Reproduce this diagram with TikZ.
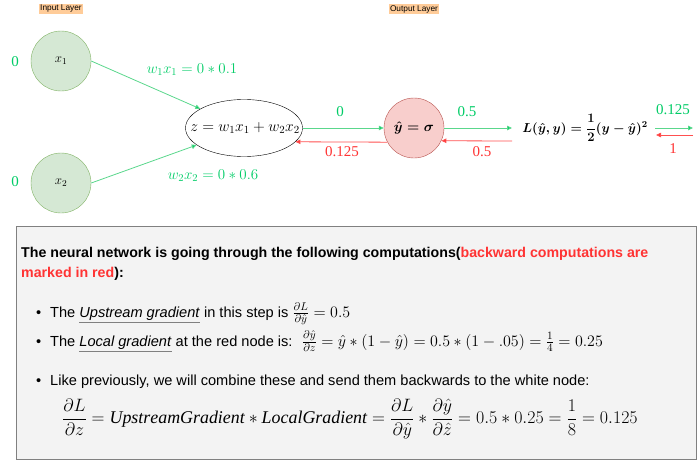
\RequirePackage{fix-cm}
\documentclass[tikz,border=0pt]{standalone}
\usepackage{fontspec}
\usepackage{amsmath}
\setmainfont{Liberation Serif}
\setsansfont{Liberation Sans}
\usetikzlibrary{arrows.meta,shapes.geometric,calc}
\definecolor{gtext}{RGB}{0,204,102}
\definecolor{gline}{RGB}{90,215,140}
\definecolor{rtext}{RGB}{255,51,51}
\definecolor{rline}{RGB}{255,80,80}
\definecolor{layerbg}{RGB}{255,204,153}
\definecolor{gfill}{RGB}{213,232,212}
\definecolor{gdraw}{RGB}{130,179,102}
\definecolor{rfill}{RGB}{248,206,204}
\definecolor{rdraw}{RGB}{184,84,80}
\definecolor{boxfill}{RGB}{243,243,243}
\definecolor{boxdraw}{RGB}{128,128,128}
\newcommand{\myul}[1]{{\color{gray}\underline{\color{black}\textit{#1}}}}
\newcommand{\mybigmath}[1]{{\fontsize{16}{18}\selectfont$#1$}}
\begin{document}
\begin{tikzpicture}[x=1pt,y=-1pt,
  layer/.style={fill=layerbg,inner sep=1pt,font=\sffamily\fontsize{8.3}{9}\selectfont},
  innode/.style={circle,fill=gfill,draw=gdraw,minimum size=60pt,inner sep=0pt,font=\fontsize{13}{15}\selectfont},
  outnode/.style={circle,fill=rfill,draw=rdraw,minimum size=60pt,inner sep=0pt,font=\fontsize{14}{16}\selectfont},
  sumnode/.style={ellipse,draw=black,fill=white,minimum width=117pt,minimum height=57pt,inner sep=0pt},
  garrow/.style={draw=gline,line width=0.8pt,-{Triangle[length=5pt,width=4.5pt,fill=gtext]}},
  rarrow/.style={draw=rline,line width=0.8pt,-{Triangle[length=5pt,width=4.5pt,fill=rtext]}},
  glab/.style={text=gtext,font=\fontsize{15}{17}\selectfont,inner sep=0pt},
  rlab/.style={text=rtext,font=\fontsize{15}{17}\selectfont,inner sep=0pt},
  ttl/.style={anchor=base west,inner sep=0pt,font=\sffamily\bfseries\fontsize{14.2}{16}\selectfont},
  bul/.style={anchor=base west,inner sep=0pt,font=\sffamily\fontsize{14.6}{17}\selectfont}
]
\useasboundingbox (0,0) rectangle (700,460);
% layer labels
\node[layer] (inl) at (61,9) {Input Layer};
\node[layer] (outl) at (414,9) {Output Layer};
% nodes
\node[innode] (x1) at (61,61) {$x_1$};
\node[innode] (x2) at (61,183) {$x_2$};
\node[sumnode] (z) at (244,128) {};
\node[inner sep=0pt,font=\fontsize{15.5}{17}\selectfont] (zl) at (245,128) {$z = w_1x_1 + w_2x_2$};
\node[outnode] (yhat) at (414,128) {$\boldsymbol{\hat{y} = \sigma}$};
\node[font=\fontsize{13}{15}\selectfont\bfseries,inner sep=0pt] (loss) at (585,128) {$\boldsymbol{L(\hat{y}, y) = \dfrac{1}{2}(y - \hat{y})^{2}}$};
% input labels
\node[glab] (z1) at (15,62) {0};
\node[glab] (z2) at (15,182) {0};
% edges from inputs
\draw[garrow] (x1.east) -- (z);
\draw[garrow] (x2.east) -- (z);
\node[glab] (w1) at (192,70) {$w_1x_1 = 0*0.1$};
\node[glab] (w2) at (213,176) {$w_2x_2 = 0*0.6$};
% z <-> yhat
\draw[garrow] (z.east) -- (yhat.west);
\draw[rarrow] (yhat.-152.2) -- (z.-15.6);
\node[glab] (l0) at (340,112) {0};
\node[rlab] (l0125) at (342,152) {0.125};
% yhat <-> loss
\coordinate (la) at (512,128);
\coordinate (lb) at (512,141);
\draw[garrow] (yhat.east) -- (la);
\draw[rarrow] (lb) -- (yhat.-25.7);
\node[glab] (l05a) at (467,112) {0.5};
\node[rlab] (l05b) at (482,152) {0.5};
% right of loss
\coordinate (ra) at (655,128);
\coordinate (rb) at (693,128);
\coordinate (rc) at (693,135);
\coordinate (rd) at (656,135);
\draw[garrow] (ra) -- (rb);
\draw[rarrow] (rc) -- (rd);
\node[glab] (r0125) at (673,110) {0.125};
\node[rlab] (r1) at (673,149) {1};
% explanation box
\node[draw=boxdraw,fill=boxfill,line width=0.8pt,minimum width=680pt,minimum height=233pt,anchor=north west,inner sep=0pt] (box) at (16,226) {};
\node[ttl] (t1) at (21,257) {The neural network is going through the following computations(\textcolor{rtext}{backward computations are}};
\node[ttl] (t2) at (21,277) {\textcolor{rtext}{marked in red}):};
\node[bul] (b1) at (36,317) {\textbullet};
\node[bul] (s1) at (50,317) {The \myul{Upstream gradient} in this step is \mybigmath{\frac{\partial L}{\partial \hat{y}} = 0.5}};
\node[bul] (b2) at (36,346) {\textbullet};
\node[bul] (s2) at (50,346) {The \myul{Local gradient} at the red node is: \ \mybigmath{\frac{\partial \hat{y}}{\partial z} = \hat{y}*(1-\hat{y}) = 0.5*(1-.05) = \frac{1}{4} = 0.25}};
\node[bul] (b3) at (36,385) {\textbullet};
\node[bul] (s3) at (50,385) {Like previously, we will combine these and send them backwards to the white node:};
\node[anchor=west,inner sep=0pt,font=\fontsize{17.9}{20}\selectfont] (eq) at (62,419) {$\displaystyle \frac{\partial L}{\partial z} = \mathit{UpstreamGradient} * \mathit{LocalGradient} = \frac{\partial L}{\partial \hat{y}} * \frac{\partial \hat{y}}{\partial \hat{z}} = 0.5*0.25 = \frac{1}{8} = 0.125$};
\end{tikzpicture}
\end{document}
